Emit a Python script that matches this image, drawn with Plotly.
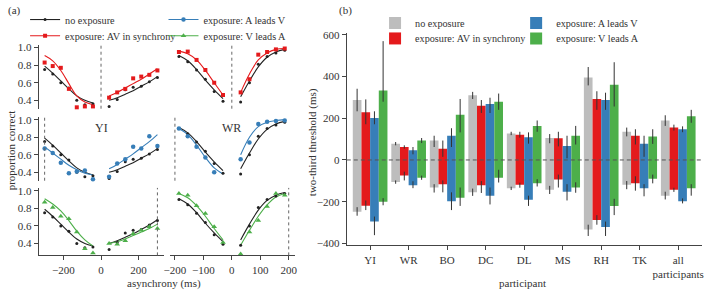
import plotly.graph_objects as go

W, H = 704, 293
def fx(x): return x / W
def fy(y): return 1 - y / H

FONT = "Liberation Serif"
BLACK = "#222222"; RED = "#e41a1c"; BLUE = "#377eb8"; GREEN = "#4daf4a"; GREY = "#bdbdbd"
AX = "#444444"

# ---------------- panel (a) data ----------------
yi_neg = [-300, -257, -214, -171, -129, -86, -43]
yi_pos = [43, 86, 129, 171, 214, 257, 300]
wr_neg = [-186, -155, -124, -93, -62, -31]
wr_pos = [31, 62, 93, 124, 155, 186]

# observed proportions
yi_none_neg = [0.75, 0.70, 0.60, 0.54, 0.40, 0.35, 0.36]
yi_none_pos = [0.33, 0.41, 0.52, 0.55, 0.56, 0.61, 0.66]
yi_sync_neg = [0.83, 0.79, 0.77, 0.53, 0.32, 0.33, 0.33]
yi_sync_pos = [0.43, 0.49, 0.53, 0.65, 0.67, 0.69, 0.74]
yi_alv_neg = [0.67, 0.62, 0.51, 0.39, 0.41, 0.42, 0.32]
yi_alv_pos = [0.35, 0.50, 0.55, 0.69, 0.67, 0.81, 0.70]
yi_vla_neg = [0.87, 0.81, 0.71, 0.68, 0.53, 0.34, 0.29]
yi_vla_pos = [0.40, 0.39, 0.43, 0.51, 0.55, 0.59, 0.57]

wr_none_neg = [0.90, 0.84, 0.745, 0.64, 0.50, 0.39]
wr_none_pos = [0.38, 0.60, 0.81, 0.90, 0.94, 0.97]
wr_sync_neg = [0.95, 0.955, 0.86, 0.745, 0.60, 0.46]
wr_sync_pos = [0.49, 0.64, 0.92, 0.95, 0.98, 0.99]
wr_alv_neg = [0.90, 0.81, 0.69, 0.57, 0.40, 0.30]
wr_alv_pos = [0.55, 0.74, 0.95, 0.975, 0.985, 0.99]
wr_vla_neg = [0.97, 0.95, 0.83, 0.74, 0.59, 0.41]
wr_vla_pos = [0.28, 0.53, 0.66, 0.82, 0.97, 0.95]

# fitted curves (at the same asynchronies)
yi_none_fit_neg = [0.79, 0.71, 0.62, 0.53, 0.45, 0.40, 0.37]
yi_none_fit_pos = [0.40, 0.43, 0.47, 0.51, 0.56, 0.61, 0.67]
yi_sync_fit_neg = [0.91, 0.85, 0.74, 0.59, 0.45, 0.38, 0.35]
yi_sync_fit_pos = [0.45, 0.49, 0.54, 0.59, 0.64, 0.70, 0.76]
yi_alv_fit_neg = [0.69, 0.62, 0.55, 0.48, 0.43, 0.39, 0.37]
yi_alv_fit_pos = [0.44, 0.49, 0.55, 0.61, 0.68, 0.75, 0.83]
yi_vla_fit_neg = [0.91, 0.85, 0.77, 0.66, 0.54, 0.44, 0.37]
yi_vla_fit_pos = [0.40, 0.42, 0.45, 0.49, 0.53, 0.57, 0.62]

wr_none_fit_neg = [0.91, 0.85, 0.75, 0.63, 0.52, 0.42]
wr_none_fit_pos = [0.44, 0.62, 0.78, 0.89, 0.95, 0.98]
wr_sync_fit_neg = [0.96, 0.93, 0.86, 0.74, 0.60, 0.46]
wr_sync_fit_pos = [0.49, 0.70, 0.86, 0.94, 0.98, 0.99]
wr_alv_fit_neg = [0.90, 0.83, 0.71, 0.57, 0.45, 0.38]
wr_alv_fit_pos = [0.60, 0.80, 0.92, 0.97, 0.99, 1.00]
wr_vla_fit_neg = [0.97, 0.92, 0.83, 0.71, 0.57, 0.44]
wr_vla_fit_pos = [0.38, 0.55, 0.71, 0.84, 0.93, 0.97]

exposure_lag_yi = [0, -300, 300]
exposure_lag_wr = [0, -200, 200]

# ---------------- panel (b) data ----------------
participants = ["YI", "WR", "BO", "DC", "DL", "MS", "RH", "TK", "all<br>participants"]

none_up = [287, 78, 93, 310, 127, 105, 395, 135, 189]
none_up_ep = [54, 8, 23, 16, 8, 19, 50, 20, 25]
none_up_em = [54, 8, 31, 18, 8, 25, 38, 22, 26]
none_lo = [-248, -106, -132, -155, -136, -143, -333, -119, -171]
none_lo_ep = [22, 8, 16, 18, 8, 19, 23, 18, 19]
none_lo_em = [19, 8, 24, 17, 8, 20, 31, 21, 18]

sync_up = [228, 62, 54, 260, 121, 104, 292, 116, 155]
sync_up_ep = [62, 8, 39, 27, 14, 31, 37, 31, 14]
sync_up_em = [57, 8, 39, 35, 14, 39, 52, 42, 14]
sync_lo = [-219, -74, -116, -121, -119, -93, -287, -112, -143]
sync_lo_ep = [25, 18, 18, 20, 10, 23, 23, 34, 10]
sync_lo_em = [21, 24, 39, 37, 14, 39, 23, 35, 10]

alv_up = [201, 47, 116, 268, 109, 67, 287, 78, 147]
alv_up_ep = [32, 15, 36, 30, 23, 49, 35, 38, 14]
alv_up_em = [30, 20, 54, 43, 31, 59, 47, 63, 14]
alv_lo = [-295, -121, -198, -171, -191, -152, -321, -136, -198]
alv_lo_ep = [24, 19, 43, 39, 20, 36, 26, 20, 14]
alv_lo_em = [65, 14, 42, 42, 29, 42, 43, 38, 10]

vla_up = [333, 93, 217, 279, 163, 116, 360, 112, 209]
vla_up_ep = [236, 12, 75, 39, 26, 47, 108, 35, 31]
vla_up_em = [54, 12, 85, 39, 28, 42, 104, 35, 31]
vla_lo = [-200, -85, -181, -85, -112, -132, -220, -90, -136]
vla_lo_ep = [17, 10, 49, 38, 20, 25, 34, 20, 20]
vla_lo_em = [17, 10, 39, 23, 15, 25, 44, 22, 35]

fig = go.Figure()

# ---------------- panel (a) ----------------
col_x = {1: ([33, 160], [-332, 336]), 2: ([165.7, 292.3], [-218, 222])}
row_y = {1: ([41, 107], [0.304, 1.033]), 2: ([115.3, 181.3], [0.304, 1.033]),
         3: ([188.7, 258.3], [0.264, 1.033])}

panels = {
    1: dict(neg=yi_neg, pos=yi_pos, none=(yi_none_neg, yi_none_pos, yi_none_fit_neg, yi_none_fit_pos),
            exps=[(yi_sync_neg, yi_sync_pos, yi_sync_fit_neg, yi_sync_fit_pos),
                  (yi_alv_neg, yi_alv_pos, yi_alv_fit_neg, yi_alv_fit_pos),
                  (yi_vla_neg, yi_vla_pos, yi_vla_fit_neg, yi_vla_fit_pos)], lags=exposure_lag_yi),
    2: dict(neg=wr_neg, pos=wr_pos, none=(wr_none_neg, wr_none_pos, wr_none_fit_neg, wr_none_fit_pos),
            exps=[(wr_sync_neg, wr_sync_pos, wr_sync_fit_neg, wr_sync_fit_pos),
                  (wr_alv_neg, wr_alv_pos, wr_alv_fit_neg, wr_alv_fit_pos),
                  (wr_vla_neg, wr_vla_pos, wr_vla_fit_neg, wr_vla_fit_pos)], lags=exposure_lag_wr),
}
exp_style = [(RED, "square", 4), (BLUE, "circle", 4.5), (GREEN, "triangle-up", 5)]

shapes = []
annotations = []
for r in (1, 2, 3):
    for c in (1, 2):
        i = (r - 1) * 2 + c
        xa = "x" if i == 1 else f"x{i}"
        ya = "y" if i == 1 else f"y{i}"
        p = panels[c]
        xs = p["neg"] + [None] + p["pos"]
        color, sym, size = exp_style[r - 1]
        e_neg, e_pos, ef_neg, ef_pos = p["exps"][r - 1]
        n_neg, n_pos, nf_neg, nf_pos = p["none"]
        fig.add_trace(go.Scatter(x=xs, y=nf_neg + [None] + nf_pos, mode="lines", line=dict(color=BLACK, width=1.1, shape="spline"),
                                 xaxis=xa, yaxis=ya, showlegend=False, hoverinfo="skip", cliponaxis=False))
        fig.add_trace(go.Scatter(x=xs, y=ef_neg + [None] + ef_pos, mode="lines", line=dict(color=color, width=1.1, shape="spline"),
                                 xaxis=xa, yaxis=ya, showlegend=False, hoverinfo="skip", cliponaxis=False))
        fig.add_trace(go.Scatter(x=xs, y=n_neg + [None] + n_pos, mode="markers", marker=dict(color=BLACK, size=3, symbol="circle"),
                                 xaxis=xa, yaxis=ya, showlegend=False, cliponaxis=False))
        fig.add_trace(go.Scatter(x=xs, y=e_neg + [None] + e_pos, mode="markers", marker=dict(color=color, size=size, symbol=sym),
                                 xaxis=xa, yaxis=ya, showlegend=False, cliponaxis=False))
        shapes.append(dict(type="line", xref=xa, yref=f"{ya} domain", x0=p["lags"][r - 1], x1=p["lags"][r - 1], y0=0, y1=1,
                           line=dict(color="#666666", width=1, dash="3px,3px")))

# legend carriers for panel (a)
leg_a = [("no exposure", BLACK, "circle", 3, "legend"),
         ("exposure: AV in synchrony", RED, "square", 4, "legend2"),
         ("exposure: A leads V", BLUE, "circle", 4.5, "legend3"),
         ("exposure: V leads A", GREEN, "triangle-up", 5, "legend4")]
for name, color, sym, size, lg in leg_a:
    fig.add_trace(go.Scatter(x=[None], y=[None], mode="lines+markers", name=name,
                             line=dict(color=color, width=1.1), marker=dict(color=color, symbol=sym, size=size),
                             xaxis="x", yaxis="y", legend=lg, showlegend=True))

# ---------------- panel (b) ----------------
bar_series = [("no exposure", GREY, none_up, none_up_ep, none_up_em, none_lo, none_lo_ep, none_lo_em, "legend5"),
              ("exposure: AV in synchrony", RED, sync_up, sync_up_ep, sync_up_em, sync_lo, sync_lo_ep, sync_lo_em, "legend6"),
              ("exposure: A leads V", BLUE, alv_up, alv_up_ep, alv_up_em, alv_lo, alv_lo_ep, alv_lo_em, "legend7"),
              ("exposure: V leads A", GREEN, vla_up, vla_up_ep, vla_up_em, vla_lo, vla_lo_ep, vla_lo_em, "legend8")]
for name, color, up, upp, upm, lo, lop, lom, lg in bar_series:
    err = dict(type="data", symmetric=False, color="#333333", thickness=1, width=0)
    fig.add_trace(go.Bar(x=participants, y=up, name=name, offsetgroup=name, marker=dict(color=color, line=dict(width=0)),
                         error_y=dict(err, array=upp, arrayminus=upm), xaxis="x7", yaxis="y7", legend=lg, showlegend=True))
    fig.add_trace(go.Bar(x=participants, y=lo, name=name, offsetgroup=name, marker=dict(color=color, line=dict(width=0)),
                         error_y=dict(err, array=lop, arrayminus=lom), xaxis="x7", yaxis="y7", showlegend=False))

shapes.append(dict(type="line", xref="x7 domain", yref="y7", x0=0, x1=1, y0=0, y1=0, layer="above",
                   line=dict(color="#555555", width=1, dash="4px,3px")))

tickfont = dict(family=FONT, size=11, color="#333333")
layout = dict(
    width=W, height=H, margin=dict(l=0, r=0, t=0, b=0),
    paper_bgcolor="white", plot_bgcolor="rgba(0,0,0,0)",
    font=dict(family=FONT, size=11, color="#333333"),
    barmode="group", bargap=0.1, bargroupgap=0,
    shapes=shapes,
)
for r in (1, 2, 3):
    for c in (1, 2):
        i = (r - 1) * 2 + c
        xk = "xaxis" if i == 1 else f"xaxis{i}"
        yk = "yaxis" if i == 1 else f"yaxis{i}"
        xd, xr = col_x[c]
        yd, yr = row_y[r]
        bottom = (r == 3)
        layout[xk] = dict(domain=[fx(xd[0]), fx(xd[1])], range=xr, anchor=("y" if i == 1 else f"y{i}"),
                          showline=bottom, linecolor=AX, linewidth=1, ticks="outside" if bottom else "",
                          ticklen=4, tickcolor=AX, showticklabels=bottom, showgrid=False, zeroline=False,
                          tickvals=[-200, 0, 200] if c == 1 else [-200, -100, 0, 100, 200], tickfont=tickfont)
        layout[yk] = dict(domain=[fy(yd[1]), fy(yd[0])], range=yr, anchor=("x" if i == 1 else f"x{i}"),
                          showline=(c == 1), linecolor=AX, linewidth=1, ticks="outside" if c == 1 else "",
                          ticklen=4, tickcolor=AX, showticklabels=(c == 1), showgrid=False, zeroline=False,
                          tickvals=[0.4, 0.6, 0.8, 1.0], ticktext=["0.4", "0.6", "0.8", "1.0"], tickfont=tickfont)

layout["xaxis7"] = dict(domain=[fx(344.7), 1], range=[-0.606, 8.617], anchor="y7", type="category",
                        showline=True, linecolor=AX, linewidth=1, ticks="outside", ticklen=4, tickcolor=AX,
                        showgrid=False, zeroline=False, tickfont=tickfont)
layout["yaxis7"] = dict(domain=[fy(248), fy(29.3)], range=[-409, 606], anchor="x7",
                        showline=True, linecolor=AX, linewidth=1, ticks="outside", ticklen=4, tickcolor=AX,
                        showgrid=False, zeroline=False, tickvals=[-400, -200, 0, 200, 400, 600], tickfont=tickfont)

legfont = dict(family=FONT, size=10.2, color="#333333")
for lg, lx, ly in [("legend", 19.3, 15), ("legend2", 19.3, 31.7), ("legend3", 159.3, 15), ("legend4", 159.3, 31.7),
                   ("legend5", 373.3, 18.5), ("legend6", 373.3, 34.5), ("legend7", 516, 18.5), ("legend8", 516, 34.5)]:
    layout[lg] = dict(x=fx(lx), y=fy(ly), xanchor="left", yanchor="middle", bgcolor="rgba(0,0,0,0)",
                      borderwidth=0, font=legfont, itemclick=False)

def ann(text, x, y, size=11, angle=0, xanchor="center"):
    return dict(text=text, x=fx(x), y=fy(y), xref="paper", yref="paper", showarrow=False,
                textangle=angle, xanchor=xanchor, yanchor="middle", font=dict(family=FONT, size=size, color="#333333"))

annotations += [
    ann("asynchrony (ms)", 160, 287.5, 11),
    ann("proportion correct", 5, 150, 11, -90),
    ann("participant", 522, 286.5, 11),
    ann("two-third threshold (ms)", 310, 141, 11, -90),
    ann("(a)", 0, 6, 11, 0, "left"),
    ann("(b)", 343, 6, 11),
    dict(text="YI", x=0, y=0.905, xref="x3", yref="y3", showarrow=False, font=dict(family=FONT, size=12, color="#333333")),
    dict(text="WR", x=0, y=0.905, xref="x4", yref="y4", showarrow=False, font=dict(family=FONT, size=12, color="#333333")),
]
layout["annotations"] = annotations

fig.update_layout(**layout)
fig.write_html("out.html")
